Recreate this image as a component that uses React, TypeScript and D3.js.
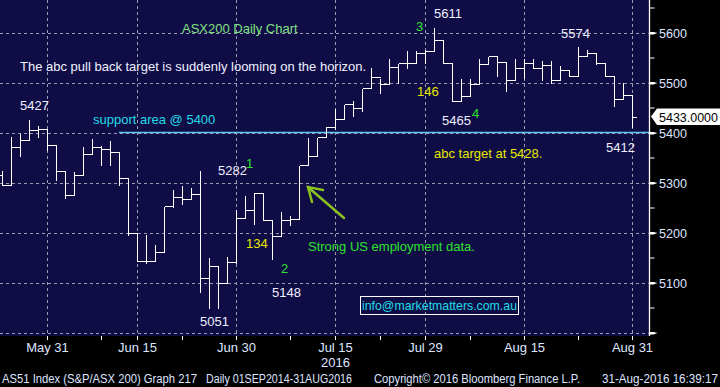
import React from 'react';
import * as d3 from 'd3';

// trading-day index 0 = 24 May 2016, 70 = 31 Aug 2016
const barHigh = [5325, 5394, 5401, 5427, 5416, 5407, 5377, 5327, 5324, 5374, 5391, 5376, 5386, 5362, 5311, 5201, 5198, 5178, 5255, 5289, 5297, 5292, 5326, 5153, 5135, 5155, 5249, 5277, 5282, 5281, 5227, 5244, 5237, 5337, 5393, 5393, 5414, 5451, 5459, 5467, 5489, 5533, 5511, 5551, 5539, 5566, 5566, 5569, 5611, 5587, 5539, 5509, 5511, 5549, 5554, 5554, 5543, 5549, 5549, 5549, 5545, 5547, 5536, 5527, 5574, 5569, 5561, 5541, 5515, 5503, 5477];
const barLow = [5295, 5295, 5354, 5387, 5393, 5367, 5307, 5271, 5277, 5317, 5359, 5337, 5337, 5295, 5197, 5145, 5141, 5145, 5161, 5253, 5259, 5269, 5082, 5051, 5051, 5101, 5141, 5231, 5219, 5227, 5148, 5195, 5217, 5229, 5337, 5354, 5393, 5407, 5429, 5435, 5443, 5489, 5479, 5498, 5499, 5529, 5539, 5539, 5564, 5541, 5465, 5465, 5475, 5498, 5538, 5515, 5485, 5507, 5511, 5531, 5507, 5501, 5507, 5515, 5515, 5554, 5538, 5515, 5454, 5469, 5412];
const barClose = [5295, 5371, 5387, 5406, 5407, 5377, 5324, 5277, 5317, 5359, 5371, 5369, 5362, 5311, 5201, 5145, 5145, 5161, 5255, 5273, 5269, 5279, 5111, 5135, 5101, 5142, 5231, 5246, 5281, 5227, 5195, 5227, 5229, 5337, 5354, 5393, 5413, 5429, 5457, 5451, 5489, 5513, 5498, 5533, 5539, 5539, 5559, 5564, 5587, 5541, 5465, 5475, 5498, 5538, 5554, 5543, 5507, 5531, 5539, 5531, 5536, 5507, 5527, 5515, 5554, 5561, 5541, 5515, 5469, 5477, 5433];
const firstOpen = 5317;

const xTickIdx = [5, 15, 26, 37, 47, 58, 70];
const xTickLabels = ['May 31', 'Jun 15', 'Jun 30', 'Jul 15', 'Jul 29', 'Aug 15', 'Aug 31'];
const xMinorIdx = [11, 20, 32, 42, 52, 64];
const yTicks = [5100, 5200, 5300, 5400, 5500, 5600];
const yGrid = [5000, 5100, 5200, 5300, 5400, 5500, 5600];
const yMinor = [5050, 5150, 5250, 5350, 5450, 5550, 5650];
const lastPrice = 5433;
const supportLevel = 5403;

const W = 720;
const H = 387;
const plotRight = 649.5;
const plotBottom = 336;
const font = '"Liberation Sans", Arial, sans-serif';

const App: React.FC = () => {
  const x = d3.scaleLinear().domain([0, 70]).range([2.5, 632.5]);
  const y = d3.scaleLinear().domain([5000, 5666]).range([333, 0]);
  const py = (v: number) => Math.round(y(v)) + 0.5;

  const bars = barHigh.map((h, i) => ({
    i,
    open: i === 0 ? firstOpen : barClose[i - 1],
    high: h,
    low: barLow[i],
    close: barClose[i],
  }));

  const barPath = bars
    .map(b => {
      const cx = x(b.i);
      return `M${cx},${py(b.high)}V${py(b.low)}M${cx - 4.5},${py(b.open)}H${cx}M${cx},${py(b.close)}H${cx + 4.5}`;
    })
    .join('');

  const white = '#eef0ff';
  const green = '#2fe02f';
  const yellow = '#e8e800';
  const cyan = '#22dce6';
  const axisTxt = '#dfe6ff';

  const lastY = y(lastPrice);

  return (
    <svg width={W} height={H} style={{ position: 'absolute', left: 0, top: 0, fontFamily: font }}>
      <rect width={W} height={H} fill="#000" />
      <rect x={0} y={0} width={plotRight} height={plotBottom} fill="#100d46" />

      {/* grid */}
      <g stroke="#9c9cb0" strokeDasharray="3,3" strokeWidth={1} shapeRendering="crispEdges">
        {yGrid.map(v => (
          <line key={v} x1={0} x2={plotRight} y1={py(v)} y2={py(v)} />
        ))}
        {xTickIdx.map(i => (
          <line key={i} x1={x(i)} x2={x(i)} y1={0} y2={plotBottom} />
        ))}
      </g>

      {/* support line */}
      <line x1={119} x2={plotRight} y1={py(supportLevel)} y2={py(supportLevel)} stroke="#5ec8ee" strokeWidth={1.3} />

      {/* OHLC bars */}
      <path d={barPath} stroke="#ffffff" strokeWidth={1.2} fill="none" shapeRendering="crispEdges" />

      {/* right axis */}
      <line x1={plotRight} x2={plotRight} y1={0} y2={plotBottom} stroke="#fff" strokeWidth={1.3} />
      {yMinor.map(v => (
        <line key={v} x1={plotRight} x2={plotRight + 5} y1={y(v)} y2={y(v)} stroke="#fff" />
      ))}
      {yGrid.map(v => (
        <path key={v} d={`M${plotRight},${y(v) - 1}L${plotRight + 4},${y(v) - 1}L${plotRight + 8},${y(v)}L${plotRight + 4},${y(v) + 1.5}L${plotRight},${y(v) + 1.5}Z`} fill="#fff" />
      ))}
      {yTicks.map(v => (
        <text key={v} x={659} y={y(v) + 5} fill={axisTxt} fontSize={13} textLength={28} lengthAdjust="spacingAndGlyphs">{v}</text>
      ))}

      {/* last price flag */}
      <path d={`M${651},${lastY}L${657},${lastY - 8}H${W}V${lastY + 8.5}H${657}Z`} fill="#fff" />
      <text x={659} y={lastY + 5} fill="#000" fontSize={13} textLength={59} lengthAdjust="spacingAndGlyphs">{lastPrice.toFixed(4)}</text>

      {/* bottom axis */}
      {[...xTickIdx, ...xMinorIdx].map(i => (
        <line key={i} x1={x(i)} x2={x(i)} y1={plotBottom} y2={plotBottom + 4} stroke="#fff" />
      ))}
      {xTickIdx.map((i, k) => (
        <text key={i} x={x(i)} y={352} fill={axisTxt} fontSize={13} textAnchor="middle">{xTickLabels[k]}</text>
      ))}
      <text x={x(37)} y={367} fill={axisTxt} fontSize={13} textAnchor="middle">2016</text>

      {/* annotations */}
      <g fontSize={13}>
        <text x={182} y={33} fill="#80e080">ASX200 Daily Chart</text>
        <text x={20} y={71} fill={white}>The abc pull back target is suddenly looming on the horizon.</text>
        <text x={20} y={110} fill={white}>5427</text>
        <text x={93} y={124} fill={cyan}>support area @ 5400</text>
        <text x={218} y={175} fill={white}>5282</text>
        <text x={246} y={168} fill={green}>1</text>
        <text x={246} y={248} fill={yellow}>134</text>
        <text x={281} y={273} fill={green}>2</text>
        <text x={272} y={297} fill={white}>5148</text>
        <text x={200} y={326} fill={white}>5051</text>
        <text x={308} y={251} fill={green}>Strong US employment data.</text>
        <text x={416} y={31} fill={green}>3</text>
        <text x={434} y={18} fill={white}>5611</text>
        <text x={417} y={96} fill={yellow}>146</text>
        <text x={442} y={125} fill={white}>5465</text>
        <text x={472} y={118} fill={green}>4</text>
        <text x={434} y={158} fill={yellow}>abc target at 5428.</text>
        <text x={561} y={38} fill={white}>5574</text>
        <text x={606} y={152} fill={white}>5412</text>
      </g>

      {/* arrow */}
      <g stroke="#8cc21e" strokeWidth={2.5} fill="none" strokeLinecap="round">
        <line x1={344} x2={309} y1={218} y2={188} />
        <polyline points="323,190 308,187 312,202" />
      </g>

      {/* contact box */}
      <rect x={360.5} y={296.5} width={158} height={18} fill="none" stroke="#fff" strokeWidth={1} />
      <text x={362} y={310} fill={cyan} fontSize={13} textLength={155} lengthAdjust="spacingAndGlyphs">info@marketmatters.com.au</text>

      {/* footer */}
      <g fill="#dfe4ff" fontSize={12}>
        <text x={2} y={383} textLength={195} lengthAdjust="spacingAndGlyphs">AS51 Index (S&amp;P/ASX 200) Graph 217</text>
        <text x={206} y={383} textLength={146} lengthAdjust="spacingAndGlyphs">Daily 01SEP2014-31AUG2016</text>
        <text x={374} y={383} textLength={206} lengthAdjust="spacingAndGlyphs">Copyright© 2016 Bloomberg Finance L.P.</text>
        <text x={602} y={383} textLength={116} lengthAdjust="spacingAndGlyphs">31-Aug-2016 16:39:17</text>
      </g>
    </svg>
  );
};

export default App;
